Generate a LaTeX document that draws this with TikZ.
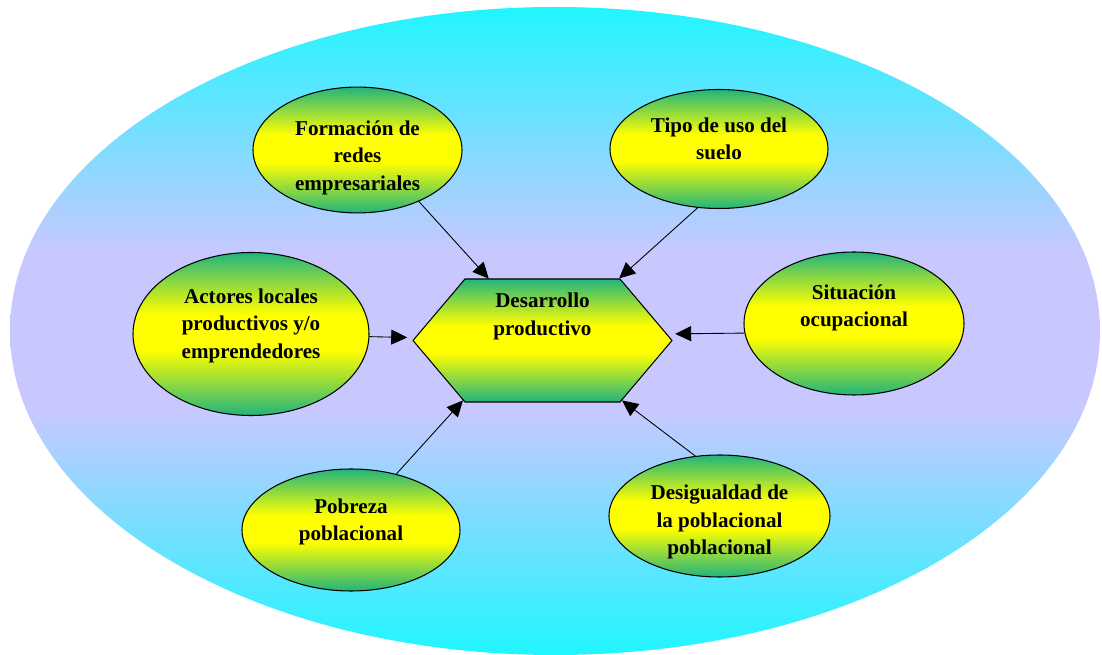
\documentclass[tikz,border=0pt]{standalone}
\usepackage{fontspec}
\setmainfont{Liberation Serif}
\usepackage{tikz}
\usetikzlibrary{shapes.geometric,shapes.symbols,arrows.meta}

\definecolor{cyanfondo}{RGB}{32,246,255}
\definecolor{lilafondo}{RGB}{200,200,255}
\definecolor{verdenodo}{RGB}{34,180,125}
\definecolor{amarillonodo}{RGB}{255,255,0}

\pgfdeclareverticalshading{amarilloverde}{100bp}{%
  color(0bp)=(verdenodo); color(25bp)=(verdenodo); color(45bp)=(amarillonodo);
  color(56bp)=(amarillonodo); color(75bp)=(verdenodo); color(100bp)=(verdenodo)}
\pgfdeclareverticalshading{fondo}{100bp}{%
  color(0bp)=(cyanfondo); color(25bp)=(cyanfondo); color(44bp)=(lilafondo);
  color(56bp)=(lilafondo); color(75bp)=(cyanfondo); color(100bp)=(cyanfondo)}

\tikzset{
  factor/.style={ellipse, draw, line width=0.6pt, shading=amarilloverde,
    align=center, inner sep=0pt, font=\bfseries\fontsize{12}{15.5}\selectfont},
  centro/.style={signal, signal to=west and east, signal pointer angle=99.6,
    draw, line width=0.6pt, shading=amarilloverde, align=center, inner sep=0pt,
    font=\bfseries\fontsize{12}{15.5}\selectfont},
  flecha/.style={line width=0.5pt, -{Triangle[length=0.32cm,width=0.3cm]}}
}

\begin{document}
\begin{tikzpicture}
        \useasboundingbox (0,0) rectangle (22.04,13.10);
        \shade[shading=fondo] (11.10,6.48) ellipse (10.90 and 6.48);
        \node[centro, minimum width=5.18cm, minimum height=2.46cm, text depth=1.05cm] (hex) at (10.85,6.29) {Desarrollo\\productivo};
        \node[factor, minimum width=4.18cm, minimum height=2.48cm, text height=1.69cm] (form) at (7.15,10.10) {Formación de\\redes\\empresariales};
        \node[factor, minimum width=4.36cm, minimum height=2.38cm, text depth=0.42cm] (tipo) at (14.38,10.12) {Tipo de uso del\\suelo};
        \node[factor, minimum width=4.72cm, minimum height=3.26cm, text depth=0.42cm] (act) at (5.02,6.42) {Actores locales\\productivos y/o\\emprendedores};
        \node[factor, minimum width=4.40cm, minimum height=2.86cm, text depth=0.7cm] (sit) at (17.08,6.63) {Situación\\ocupacional};
        \node[factor, minimum width=4.36cm, minimum height=2.44cm, text depth=0.42cm] (pob) at (7.02,2.50) {Pobreza\\poblacional};
        \node[factor, minimum width=4.42cm, minimum height=2.44cm, text height=1.62cm] (des) at (14.39,2.78) {Desigualdad de\\la poblacional\\poblacional};
        \foreach \desde/\hasta in {form.-40/hex.131, tipo.-110/hex.39, pob.51/hex.217, des.112/hex.-37} {%
            \draw[flecha] (\desde) -- (\hasta);
        }
        \draw[flecha, shorten >=0.15cm] (act) -- (hex);
        \draw[flecha, shorten >=0.16cm] (sit.185) -- (hex.3);
    \end{tikzpicture}
\end{document}
